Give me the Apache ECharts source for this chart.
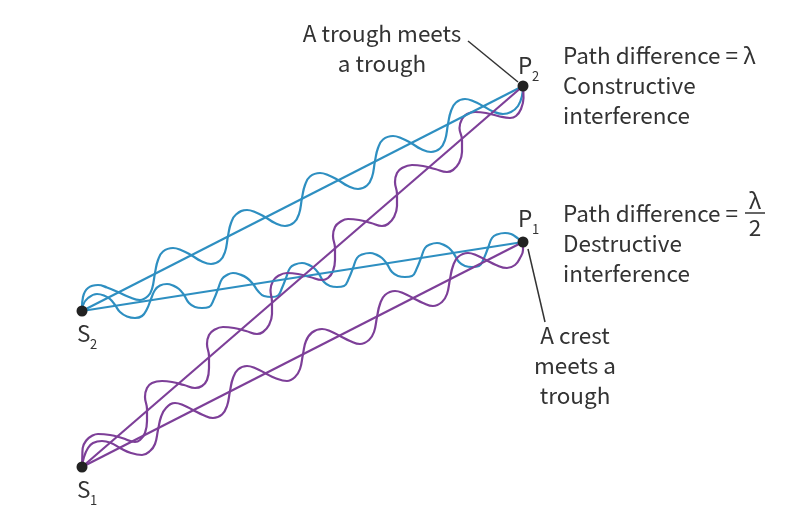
<!DOCTYPE html>
<html lang="en" style="height: 100%">

<head>
  <meta charset="utf-8">
  <style>
    html, body { height: 100%; margin: 0; background: #fff; }
    #chart { width: 799px; height: 524px; }
  </style>
</head>

<body>
  <div id="chart"></div>
  <script src="https://cdn.jsdelivr.net/npm/echarts@6/dist/echarts.min.js"></script>
  <script>
    // source and detector points
    const S1 = [82, 467];
    const S2 = [82, 311];
    const P1 = [523, 242];
    const P2 = [523, 86];

    // wave S2 -> P2
    const waveS2P2 = [S2, [82, 308], [83, 297], [88, 288], [98, 285],
      [107, 287.5], [118, 292], [129, 297], [140, 300], [148, 296], [152, 289], [155, 273], [158, 260], [163, 251.5], [173, 248],
      [182, 250.5], [191, 255], [201, 261], [211, 264], [220, 260.5], [225, 252], [228, 236], [231, 223], [236, 214.5], [247, 210],
      [256, 212.5], [265, 217], [275, 223], [285, 226], [294, 222.5], [299, 214], [302, 198], [305, 185], [310, 176.5], [320, 173],
      [329, 175.5], [338, 180], [348, 186], [358, 189], [367, 185.5], [372, 177], [375, 161], [378, 148], [383, 139.5], [393, 136],
      [402, 138.5], [411, 143], [421, 149], [431, 152], [440, 148.5], [445, 140], [448, 124], [451, 111], [456, 102.5], [465, 99],
      [474, 101.5], [483, 106], [493, 111.5], [503, 114], [511, 112], [518, 106], [522, 96], P2];
    // wave S2 -> P1
    const waveS2P1 = [S2, [83, 305], [88, 298], [97, 294],
      [104, 295.5], [110, 299], [115, 305], [120, 312], [127, 316.5], [135, 318], [142, 316], [147, 309], [151, 299], [155, 290], [160, 285.5], [167, 284],
      [173, 285.5], [179, 289], [184, 295], [189, 303], [195, 307], [202, 308], [209, 307], [214, 299], [218, 289], [222, 279], [227, 275], [233, 273],
      [240, 274.5], [247, 278], [253, 284], [258, 291], [264, 296], [272, 297], [278, 295.5], [282, 288], [286, 278], [290, 268], [295, 264.5], [302, 263],
      [308, 264.5], [314, 268], [319, 274], [324, 282], [330, 286], [337, 287], [344, 286], [349, 278], [353, 268], [357, 258], [362, 254.5], [370, 253],
      [376, 254.5], [382, 258], [387, 264], [392, 272], [398, 276], [405, 277], [412, 276], [417, 268], [421, 258], [425, 248], [430, 244.5], [437, 243],
      [443, 244.5], [449, 248], [454, 254], [459, 262], [465, 266], [472, 267], [479, 266], [484, 258], [488, 248], [492, 238], [497, 234.5], [505, 233],
      [511, 234], [516, 237], [520, 240], P1];
    // wave S1 -> P2
    const waveS1P2 = [S1, [82.3, 457], [82.7, 448], [86.7, 440], [91.7, 436], [98, 434],
      [110, 435], [122, 438], [135, 442], [140, 440], [145, 433], [147, 421], [147, 409], [145, 397], [147, 388], [152, 383], [162, 381],
      [172, 382], [184, 385], [195, 388], [202, 386], [207, 380], [209, 368], [209, 356], [207, 344], [209, 335], [214, 330], [223, 327],
      [234, 328], [246, 331], [257, 334], [263, 332], [269, 325], [272, 314], [272, 302], [270.5, 290], [273, 281], [278, 276], [287, 273],
      [298, 274], [310, 277], [322, 280], [328, 278], [333, 271], [335, 260], [335, 248], [333, 236], [335, 227], [340, 222], [348, 219],
      [359, 220], [371, 223], [382, 226], [388, 224], [394, 217], [397, 206], [397, 194], [395, 182], [397, 173], [402, 168], [412, 165],
      [423, 166], [435, 169], [447, 172], [453, 170], [459, 163], [462, 152], [462, 140], [459.5, 128], [462, 119], [467, 114], [475, 112],
      [486, 113], [498, 116], [510, 118], [516, 116], [521, 109], [523.5, 98], P2];
    // wave S1 -> P1
    const waveS1P1 = [S1, [84, 457], [88, 448], [93, 443], [102, 441],
      [111, 443], [120, 448], [131, 453], [142, 455], [150, 451], [155, 444], [158, 430], [161, 417], [166, 408], [175, 403],
      [184, 405.5], [193, 410], [203, 415], [213, 418], [222, 414.5], [227, 406], [230, 391], [233, 378], [238, 369.5], [247, 366],
      [256, 368.5], [265, 373], [275, 378], [287, 381], [295, 377], [300, 369], [303, 354], [306, 341], [312, 332.5], [322, 329],
      [331, 331.5], [340, 336], [350, 341], [360, 344], [369, 340], [374, 332], [377, 317], [380, 304], [385, 295], [395, 291],
      [404, 293.5], [413, 298], [423, 303], [433, 306], [442, 302], [447, 294], [450, 279], [453, 266], [458, 257], [468, 253],
      [477, 255.5], [486, 260], [496, 265], [507, 268], [515, 265], [520, 258], [523, 250], P1];

    const leaderTop = [[468, 41], [518, 82]];
    const leaderBottom = [[528, 249], [545, 322]];
    const dots = [S1, S2, P1, P2];

    const blue = '#2e8fc1';
    const purple = '#7d3f98';
    const ink = '#333333';
    const font = '"Noto Sans CJK SC"';

    function wave(data, color, smooth) {
      return {
        type: 'line',
        data: data,
        smooth: smooth,
        showSymbol: false,
        clip: false,
        lineStyle: { color: color, width: 2.2 },
        z: 2
      };
    }

    function txt(x, y, text, align, size) {
      return {
        type: 'text',
        x: x,
        y: y,
        style: {
          text: text,
          fill: ink,
          font: (size || 22.5) + 'px ' + font,
          textAlign: align || 'left',
          textVerticalAlign: 'middle'
        }
      };
    }

    var myChart = echarts.init(document.getElementById('chart'), null, { renderer: 'canvas' });
    myChart.setOption({
      animation: false,
      grid: { left: 0, right: 0, top: 0, bottom: 0 },
      xAxis: { type: 'value', min: 0, max: 799, show: false },
      yAxis: { type: 'value', min: 0, max: 524, inverse: true, show: false },
      series: [
        wave(waveS2P2, blue, 0.45),
        wave(waveS2P1, blue, 0.45),
        wave(waveS1P2, purple, 0.45),
        wave(waveS1P1, purple, 0.45),
        wave([S2, P2], blue, false),
        wave([S2, P1], blue, false),
        wave([S1, P2], purple, false),
        wave([S1, P1], purple, false),
        { type: 'line', data: leaderTop, showSymbol: false, lineStyle: { color: ink, width: 1.5 }, z: 1 },
        { type: 'line', data: leaderBottom, showSymbol: false, lineStyle: { color: ink, width: 1.5 }, z: 1 },
        { type: 'scatter', data: dots, symbolSize: 11, itemStyle: { color: '#222222', opacity: 1 }, z: 5 }
      ],
      graphic: [
        txt(382, 33, 'A trough meets', 'center'),
        txt(382, 63, 'a trough', 'center'),
        txt(518, 65, 'P'), txt(532, 76, '2', 'left', 13),
        txt(518, 218, 'P'), txt(532, 229, '1', 'left', 13),
        txt(77, 333, 'S'), txt(90, 344, '2', 'left', 13),
        txt(77, 489, 'S'), txt(90, 500, '1', 'left', 13),
        txt(563, 55, 'Path difference = λ'),
        txt(563, 85, 'Constructive'),
        txt(563, 115, 'interference'),
        txt(563, 213, 'Path difference ='),
        txt(755, 200, 'λ', 'center'),
        txt(755, 227, '2', 'center'),
        { type: 'line', shape: { x1: 745, y1: 213, x2: 765, y2: 213 }, style: { stroke: ink, lineWidth: 1.5 } },
        txt(563, 243, 'Destructive'),
        txt(563, 273, 'interference'),
        txt(575, 335, 'A crest', 'center'),
        txt(575, 365, 'meets a', 'center'),
        txt(575, 395, 'trough', 'center')
      ]
    });
  </script>
</body>

</html>
